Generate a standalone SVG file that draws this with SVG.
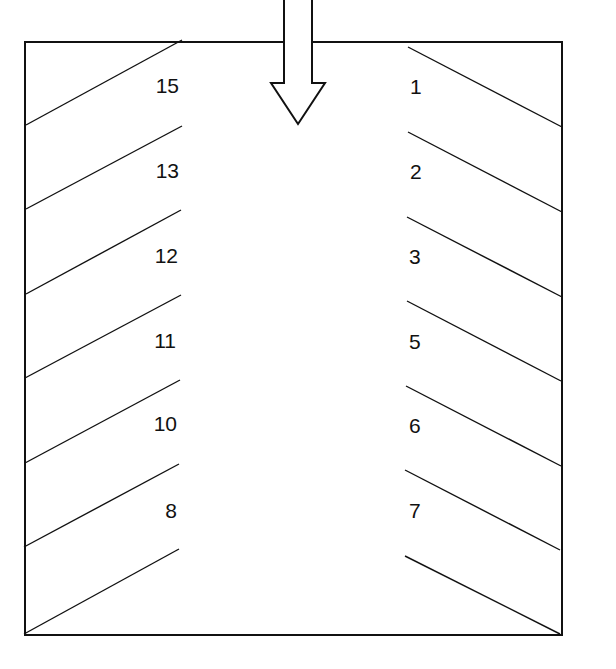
<svg xmlns="http://www.w3.org/2000/svg" width="616" height="669" viewBox="0 0 616 669">
<style>
.frame{fill:none;stroke:#111;stroke-width:2}
.slat{stroke:#111;stroke-width:1.4;fill:none}
.arrow{fill:#fff;stroke:#111;stroke-width:2;stroke-linejoin:miter}
.lbl{font-family:"Liberation Sans",Arial,sans-serif;font-size:21px;fill:#111}
.l{text-anchor:end}
.r{text-anchor:start}
</style>
<rect width="616" height="669" fill="#fff"/>
<g id="frame">
<polyline class="frame" points="284,42 25,42 25,635 562,635 562,42 312,42"/>
</g>
<g id="arrow">
<polygon class="arrow" points="284,-2 284,83 271,83 298,124 325,83 312,83 312,-2"/>
</g>
<g id="left-slats">
<line class="slat" x1="26" y1="125" x2="182" y2="40"/>
<line class="slat" x1="26" y1="209" x2="182" y2="126"/>
<line class="slat" x1="26" y1="294" x2="181" y2="210"/>
<line class="slat" x1="25" y1="378" x2="181" y2="295"/>
<line class="slat" x1="25" y1="463" x2="180" y2="380"/>
<line class="slat" x1="24" y1="547" x2="179" y2="464"/>
<line class="slat" x1="24" y1="634" x2="179" y2="549"/>
</g>
<g id="right-slats">
<line class="slat" x1="408" y1="47" x2="562" y2="127"/>
<line class="slat" x1="408" y1="132" x2="562" y2="212"/>
<line class="slat" x1="407" y1="217" x2="562" y2="297"/>
<line class="slat" x1="407" y1="301" x2="561" y2="381"/>
<line class="slat" x1="406" y1="386" x2="561" y2="466"/>
<line class="slat" x1="405" y1="470" x2="560" y2="550"/>
<line class="slat" x1="405" y1="556" x2="560" y2="634"/>
</g>
<g id="left-labels">
<text class="lbl l" x="179" y="93">15</text>
<text class="lbl l" x="179" y="178">13</text>
<text class="lbl l" x="178" y="263">12</text>
<text class="lbl l" x="176" y="348">11</text>
<text class="lbl l" x="177" y="431">10</text>
<text class="lbl l" x="177" y="518">8</text>
</g>
<g id="right-labels">
<text class="lbl r" x="410" y="94">1</text>
<text class="lbl r" x="410" y="179">2</text>
<text class="lbl r" x="409" y="264">3</text>
<text class="lbl r" x="409" y="349">5</text>
<text class="lbl r" x="409" y="433">6</text>
<text class="lbl r" x="409" y="518">7</text>
</g>
</svg>
